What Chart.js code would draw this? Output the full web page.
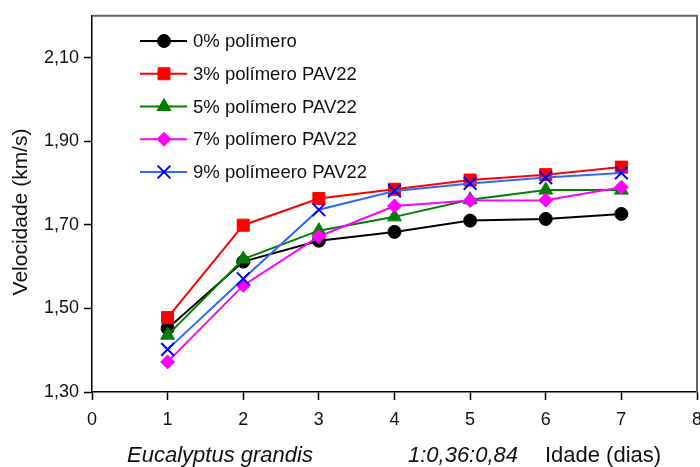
<!DOCTYPE html>
<html lang="pt">
<head>
  <meta charset="UTF-8" />
  <title>Velocidade x Idade</title>
  <script src="https://cdn.jsdelivr.net/npm/chart.js@4.4.1/dist/chart.umd.min.js"></script>
  <style>
    html, body { margin: 0; padding: 0; background: #fff; }
    #wrap { width: 700px; height: 467px; }
  </style>
</head>
<body>
  <div id="wrap"><canvas id="velChart" width="700" height="467"></canvas></div>
  <script>
    // dados
    const idade = [1, 2, 3, 4, 5, 6, 7];
    const pol0 = [1.452, 1.612, 1.662, 1.683, 1.710, 1.714, 1.726];
    const pol3 = [1.478, 1.699, 1.763, 1.785, 1.807, 1.820, 1.838];
    const pol5 = [1.436, 1.618, 1.686, 1.719, 1.760, 1.783, 1.783];
    const pol7 = [1.372, 1.555, 1.672, 1.745, 1.758, 1.759, 1.790];
    const pol9 = [1.402, 1.571, 1.736, 1.781, 1.799, 1.813, 1.824];
    const nomes = ["0% polímero", "3% polímero PAV22", "5% polímero PAV22", "7% polímero PAV22", "9% polímeero PAV22"];
    const yTicks = [1.30, 1.50, 1.70, 1.90, 2.10];
    const xTicks = [0, 1, 2, 3, 4, 5, 6, 7, 8];

    const FONT = "'Liberation Sans', Arial, sans-serif";

    function pts(arr) {
      return arr.map((v, i) => ({ x: idade[i], y: v }));
    }

    function serie(label, data, line, marker, style, radius, order) {
      return {
        label: label,
        data: pts(data),
        borderColor: line,
        borderWidth: 2,
        pointStyle: style,
        pointRadius: radius,
        pointBackgroundColor: marker,
        pointBorderColor: marker,
        pointBorderWidth: style === "crossRot" ? 2 : 1,
        tension: 0,
        order: order
      };
    }

    const datasets = [
      serie(nomes[0], pol0, "#000000", "#000000", "circle", 6.5, 5),
      serie(nomes[1], pol3, "#ff0000", "#ff0000", "rect", 8.5, 4),
      serie(nomes[2], pol5, "#008000", "#008000", "triangle", 8, 3),
      serie(nomes[3], pol7, "#ff00ff", "#ff00ff", "rectRot", 7, 2),
      serie(nomes[4], pol9, "#3366ff", "#0000ff", "crossRot", 9, 1)
    ];

    // legenda + moldura + textos
    const extras = {
      id: "extras",
      afterDraw(chart) {
        const ctx = chart.ctx;
        const a = chart.chartArea;
        const sx = chart.scales.x;
        ctx.save();
        // moldura em cima e a direita
        ctx.strokeStyle = "#666";
        ctx.lineWidth = 2;
        ctx.beginPath();
        ctx.moveTo(a.left, a.top);
        ctx.lineTo(a.right, a.top);
        ctx.lineTo(a.right, a.bottom);
        ctx.stroke();

        // rotulos do eixo x
        ctx.fillStyle = "#111";
        ctx.font = "18px " + FONT;
        ctx.textAlign = "center";
        ctx.textBaseline = "middle";
        xTicks.forEach(v => {
          ctx.fillText(String(v), sx.getPixelForValue(v), 420);
        });

        // legenda
        ctx.font = "18.5px " + FONT;
        ctx.textAlign = "left";
        datasets.forEach((ds, i) => {
          const y = 41 + i * 32.75;
          ctx.strokeStyle = ds.borderColor;
          ctx.lineWidth = 2;
          ctx.beginPath();
          ctx.moveTo(140, y);
          ctx.lineTo(187, y);
          ctx.stroke();
          ctx.fillStyle = ds.pointBackgroundColor;
          ctx.strokeStyle = ds.pointBorderColor;
          ctx.lineWidth = ds.pointBorderWidth;
          Chart.helpers.drawPoint(ctx, {
            pointStyle: ds.pointStyle,
            radius: ds.pointRadius,
            borderWidth: ds.pointBorderWidth,
            rotation: 0
          }, 164, y);
          ctx.fillStyle = "#111";
          ctx.fillText(ds.label, 193, y + 1);
        });

        // titulo do eixo y
        ctx.fillStyle = "#111";
        ctx.save();
        ctx.translate(21, 212);
        ctx.rotate(-Math.PI / 2);
        ctx.textAlign = "center";
        ctx.font = "21px " + FONT;
        ctx.fillText("Velocidade (km/s)", 0, 0);
        ctx.restore();

        // rodape
        ctx.textAlign = "center";
        ctx.textBaseline = "alphabetic";
        ctx.font = "italic 22px " + FONT;
        ctx.fillText("Eucalyptus grandis", 220, 462);
        ctx.fillText("1:0,36:0,84", 463, 462);
        ctx.font = "22px " + FONT;
        ctx.fillText("Idade (dias)", 603, 462);
        ctx.restore();
      }
    };

    new Chart(document.getElementById("velChart").getContext("2d"), {
      type: "line",
      data: { datasets: datasets },
      options: {
        responsive: false,
        animation: false,
        layout: { autoPadding: false, padding: { top: 15, right: 3, left: 0, bottom: 0 } },
        plugins: {
          legend: { display: false },
          tooltip: { enabled: false }
        },
        scales: {
          x: {
            type: "linear",
            min: 0,
            max: 8,
            afterBuildTicks(s) { s.ticks = xTicks.map(v => ({ value: v })); },
            afterFit(s) { s.height = 75; },
            grid: { display: true, drawOnChartArea: false, drawTicks: true, tickLength: 8, tickColor: "#000", tickWidth: 1.5 },
            border: { color: "#000", width: 1.5 },
            ticks: { display: false }
          },
          y: {
            min: 1.3,
            max: 2.2,
            afterBuildTicks(s) { s.ticks = yTicks.map(v => ({ value: v })); },
            afterFit(s) { s.width = 92; },
            grid: { display: true, drawOnChartArea: false, drawTicks: true, tickLength: 8, tickColor: "#000", tickWidth: 1.5 },
            border: { color: "#000", width: 1.5 },
            ticks: {
              color: "#111",
              font: { family: FONT, size: 18 },
              padding: 5,
              callback: v => v.toFixed(2).replace(".", ",")
            }
          }
        }
      },
      plugins: [extras]
    });
  </script>
</body>
</html>
